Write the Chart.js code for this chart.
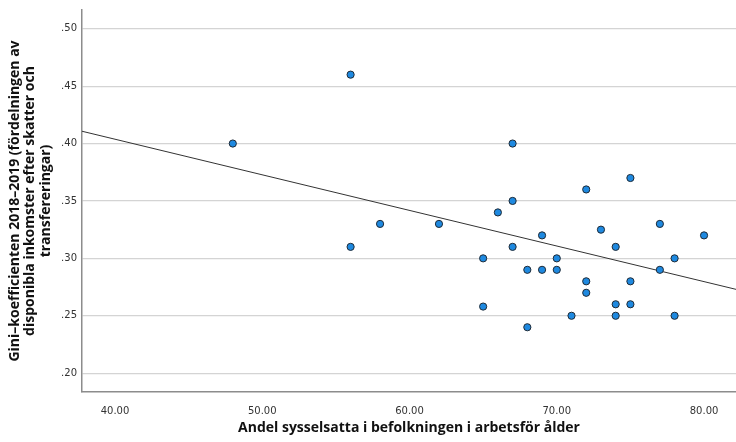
<!DOCTYPE html>
<html>
<head>
<meta charset="utf-8">
<script src="https://cdn.jsdelivr.net/npm/chart.js@4.4.1/dist/chart.umd.min.js"></script>
<style>
  html, body { margin: 0; padding: 0; background: #fff; }
  #wrap { width: 736px; height: 442px; }
</style>
</head>
<body>
<div id="wrap"><canvas id="scatter" width="736" height="442"></canvas></div>
<script>
// Employment share (x) and Gini coefficient (y)
const employment = [48, 56, 56, 58, 62, 65, 65, 66, 67, 67, 67, 68, 68, 69, 69, 70, 70,
                    71, 72, 72, 72, 73, 74, 74, 74, 75, 75, 75, 77, 77, 78, 78, 80];
const gini = [0.40, 0.46, 0.31, 0.33, 0.33, 0.30, 0.258, 0.34, 0.40, 0.35, 0.31, 0.29, 0.24, 0.32, 0.29, 0.30, 0.29,
              0.25, 0.36, 0.28, 0.27, 0.325, 0.31, 0.26, 0.25, 0.37, 0.28, 0.26, 0.33, 0.29, 0.30, 0.25, 0.32];

// Fit line, ends read at the plot edges
const fitX = [37.76, 82.17];
const fitY = [0.4107, 0.273];

const xTicks = [40, 50, 60, 70, 80];
const yTicks = [0.20, 0.25, 0.30, 0.35, 0.40, 0.45, 0.50];

const xTitle = 'Andel sysselsatta i befolkningen i arbetsför ålder';
const yTitle = ['Gini–koefficienten 2018–2019 (fördelningen av',
                'disponibla inkomster efter skatter och',
                'transfereringar)'];

const titleFont = 'bold 14px "Open Sans", sans-serif';

const axisTitles = {
    id: 'axisTitles',
    afterDraw(chart) {
        const ctx = chart.ctx;
        const area = chart.chartArea;
        ctx.save();
        ctx.fillStyle = '#111';
        ctx.font = titleFont;
        ctx.textAlign = 'center';
        ctx.textBaseline = 'middle';
        ctx.fillText(xTitle, (area.left + area.right) / 2, 428);

        ctx.translate(0, (area.top + area.bottom) / 2);
        ctx.rotate(-Math.PI / 2);
        yTitle.forEach((line, i) => {
            ctx.fillText(line, 0, 15 + i * 15.5);
        });
        ctx.restore();
    }
};

const points = employment.map((x, i) => ({ x: x, y: gini[i] }));
const fitLine = fitX.map((x, i) => ({ x: x, y: fitY[i] }));

new Chart(document.getElementById('scatter').getContext('2d'), {
    type: 'scatter',
    data: {
        datasets: [{
            label: 'Gini',
            data: points,
            backgroundColor: '#1e89e0',
            borderColor: '#1e2a36',
            borderWidth: 1,
            pointRadius: 3.6,
            order: 1
        }, {
            label: 'Fit',
            type: 'line',
            data: fitLine,
            borderColor: '#333',
            borderWidth: 1,
            pointRadius: 0,
            fill: false,
            order: 2
        }]
    },
    options: {
        responsive: false,
        animation: false,
        layout: {
            autoPadding: false,
            padding: { top: 10, right: 0, left: 0, bottom: 0 }
        },
        plugins: {
            legend: { display: false },
            tooltip: { enabled: false }
        },
        scales: {
            x: {
                type: 'linear',
                min: 37.76,
                max: 82.17,
                afterFit(scale) {
                    scale.height = 50;
                    scale.paddingLeft = 0;
                    scale.paddingRight = 0;
                },
                afterBuildTicks(scale) { scale.ticks = xTicks.map(v => ({ value: v })); },
                grid: { display: false },
                border: { display: true, color: '#8c8c8c', width: 1.5 },
                ticks: {
                    padding: 5,
                    color: '#333',
                    font: { family: '"DejaVu Sans", sans-serif', size: 10 },
                    callback: v => v.toFixed(2)
                }
            },
            y: {
                min: 0.1836,
                max: 0.5163,
                afterFit(scale) {
                    scale.width = 82;
                    scale.paddingTop = 0;
                    scale.paddingBottom = 0;
                },
                afterBuildTicks(scale) { scale.ticks = yTicks.map(v => ({ value: v })); },
                grid: { color: '#d4d4d4', lineWidth: 1.2, drawTicks: false },
                border: { display: true, color: '#8c8c8c', width: 1.5 },
                ticks: {
                    padding: 5,
                    color: '#333',
                    font: { family: '"DejaVu Sans", sans-serif', size: 10 },
                    callback: v => v.toFixed(2).replace(/^0/, '')
                }
            }
        }
    },
    plugins: [axisTitles]
});
</script>
</body>
</html>
